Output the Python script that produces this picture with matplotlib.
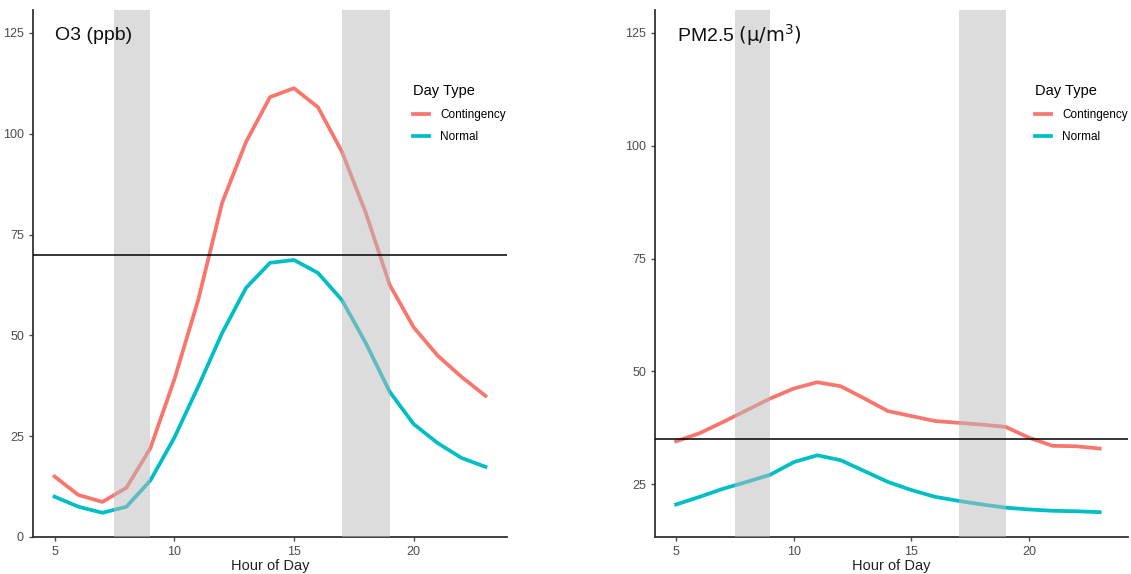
import matplotlib
matplotlib.use("Agg")
import matplotlib.pyplot as plt

plt.rcParams["font.family"] = ["Liberation Sans", "DejaVu Sans"]

hours = list(range(5, 24))

o3_contingency = [15, 10.4, 8.7, 12.2, 22, 39, 58.8, 82.9, 98, 109.1, 111.3,
                  106.6, 95.6, 80.4, 62.5, 52, 45, 39.7, 35]
o3_normal = [10, 7.5, 6, 7.5, 14, 24.6, 37.3, 50.6, 61.8, 68, 68.7,
             65.5, 58.8, 48.1, 36, 28, 23.3, 19.6, 17.4]

pm_contingency = [34.5, 36.3, 38.8, 41.4, 44, 46.2, 47.6, 46.7, 44, 41.2, 40.1,
                  39, 38.6, 38.2, 37.7, 35.3, 33.5, 33.4, 32.9]
pm_normal = [20.5, 22.2, 24, 25.5, 27.1, 29.9, 31.4, 30.3, 27.9, 25.5, 23.7,
             22.2, 21.3, 20.5, 19.8, 19.4, 19.1, 19, 18.8]

rush_hours = [(7.5, 9), (17, 19)]
day_types = ["Contingency", "Normal"]
colors = ["#F8766D", "#00BFC4"]

panels = [
    ("O3 (ppb)", o3_contingency, o3_normal, 70, (4.1, 23.9), (0, 130.7),
     [0.0292, 0.0645, 0.4191, 0.9181], 0.792),
    (r"PM2.5 $(\mathrm{\mu}/\mathrm{m}^3)$", pm_contingency, pm_normal, 35,
     (4.1, 24.2), (13.3, 130.1), [0.5791, 0.0645, 0.4182, 0.9181], 0.794),
]

fig = plt.figure(figsize=(11.31, 5.74), dpi=100)

for title, cont, norm, limit, xlim, ylim, rect, leg_x in panels:
    ax = fig.add_axes(rect)
    for series, label, c in zip([cont, norm], day_types, colors):
        ax.plot(hours, series, color=c, lw=2.7, label=label, zorder=2)
    # rush-hour bands sit over the lines, so the lines look faded there
    for start, end in rush_hours:
        ax.axvspan(start, end, color="#bbbbbb", alpha=0.5, lw=0, zorder=3)
    ax.axhline(limit, color="black", lw=1.1, zorder=4)

    ax.set_xlim(*xlim)
    ax.set_ylim(*ylim)
    ax.set_xticks([5, 10, 15, 20])
    ax.set_yticks([25, 50, 75, 100, 125] if ylim[0] > 0 else [0, 25, 50, 75, 100, 125])
    ax.tick_params(colors="#4d4d4d", labelsize=9, length=3, width=1)
    ax.set_xlabel("Hour of Day", fontsize=10.5, color="#222222", labelpad=1)
    for side in ["top", "right"]:
        ax.spines[side].set_visible(False)
    for side in ["left", "bottom"]:
        ax.spines[side].set_color("#333333")
        ax.spines[side].set_linewidth(1.3)

    ax.text(0.047, 0.952, title, transform=ax.transAxes, fontsize=14,
            va="center", ha="left", color="#111111")

    leg = ax.legend(title="Day Type", loc="upper left", bbox_to_anchor=(leg_x, 0.869),
                    frameon=False, fontsize=8.5, title_fontsize=10.5,
                    handlelength=1.3, handletextpad=1.0, labelspacing=0.9,
                    borderaxespad=0)
    leg._legend_box.align = "left"
    leg._legend_box.sep = 8

fig.savefig("out.png", dpi=100)
